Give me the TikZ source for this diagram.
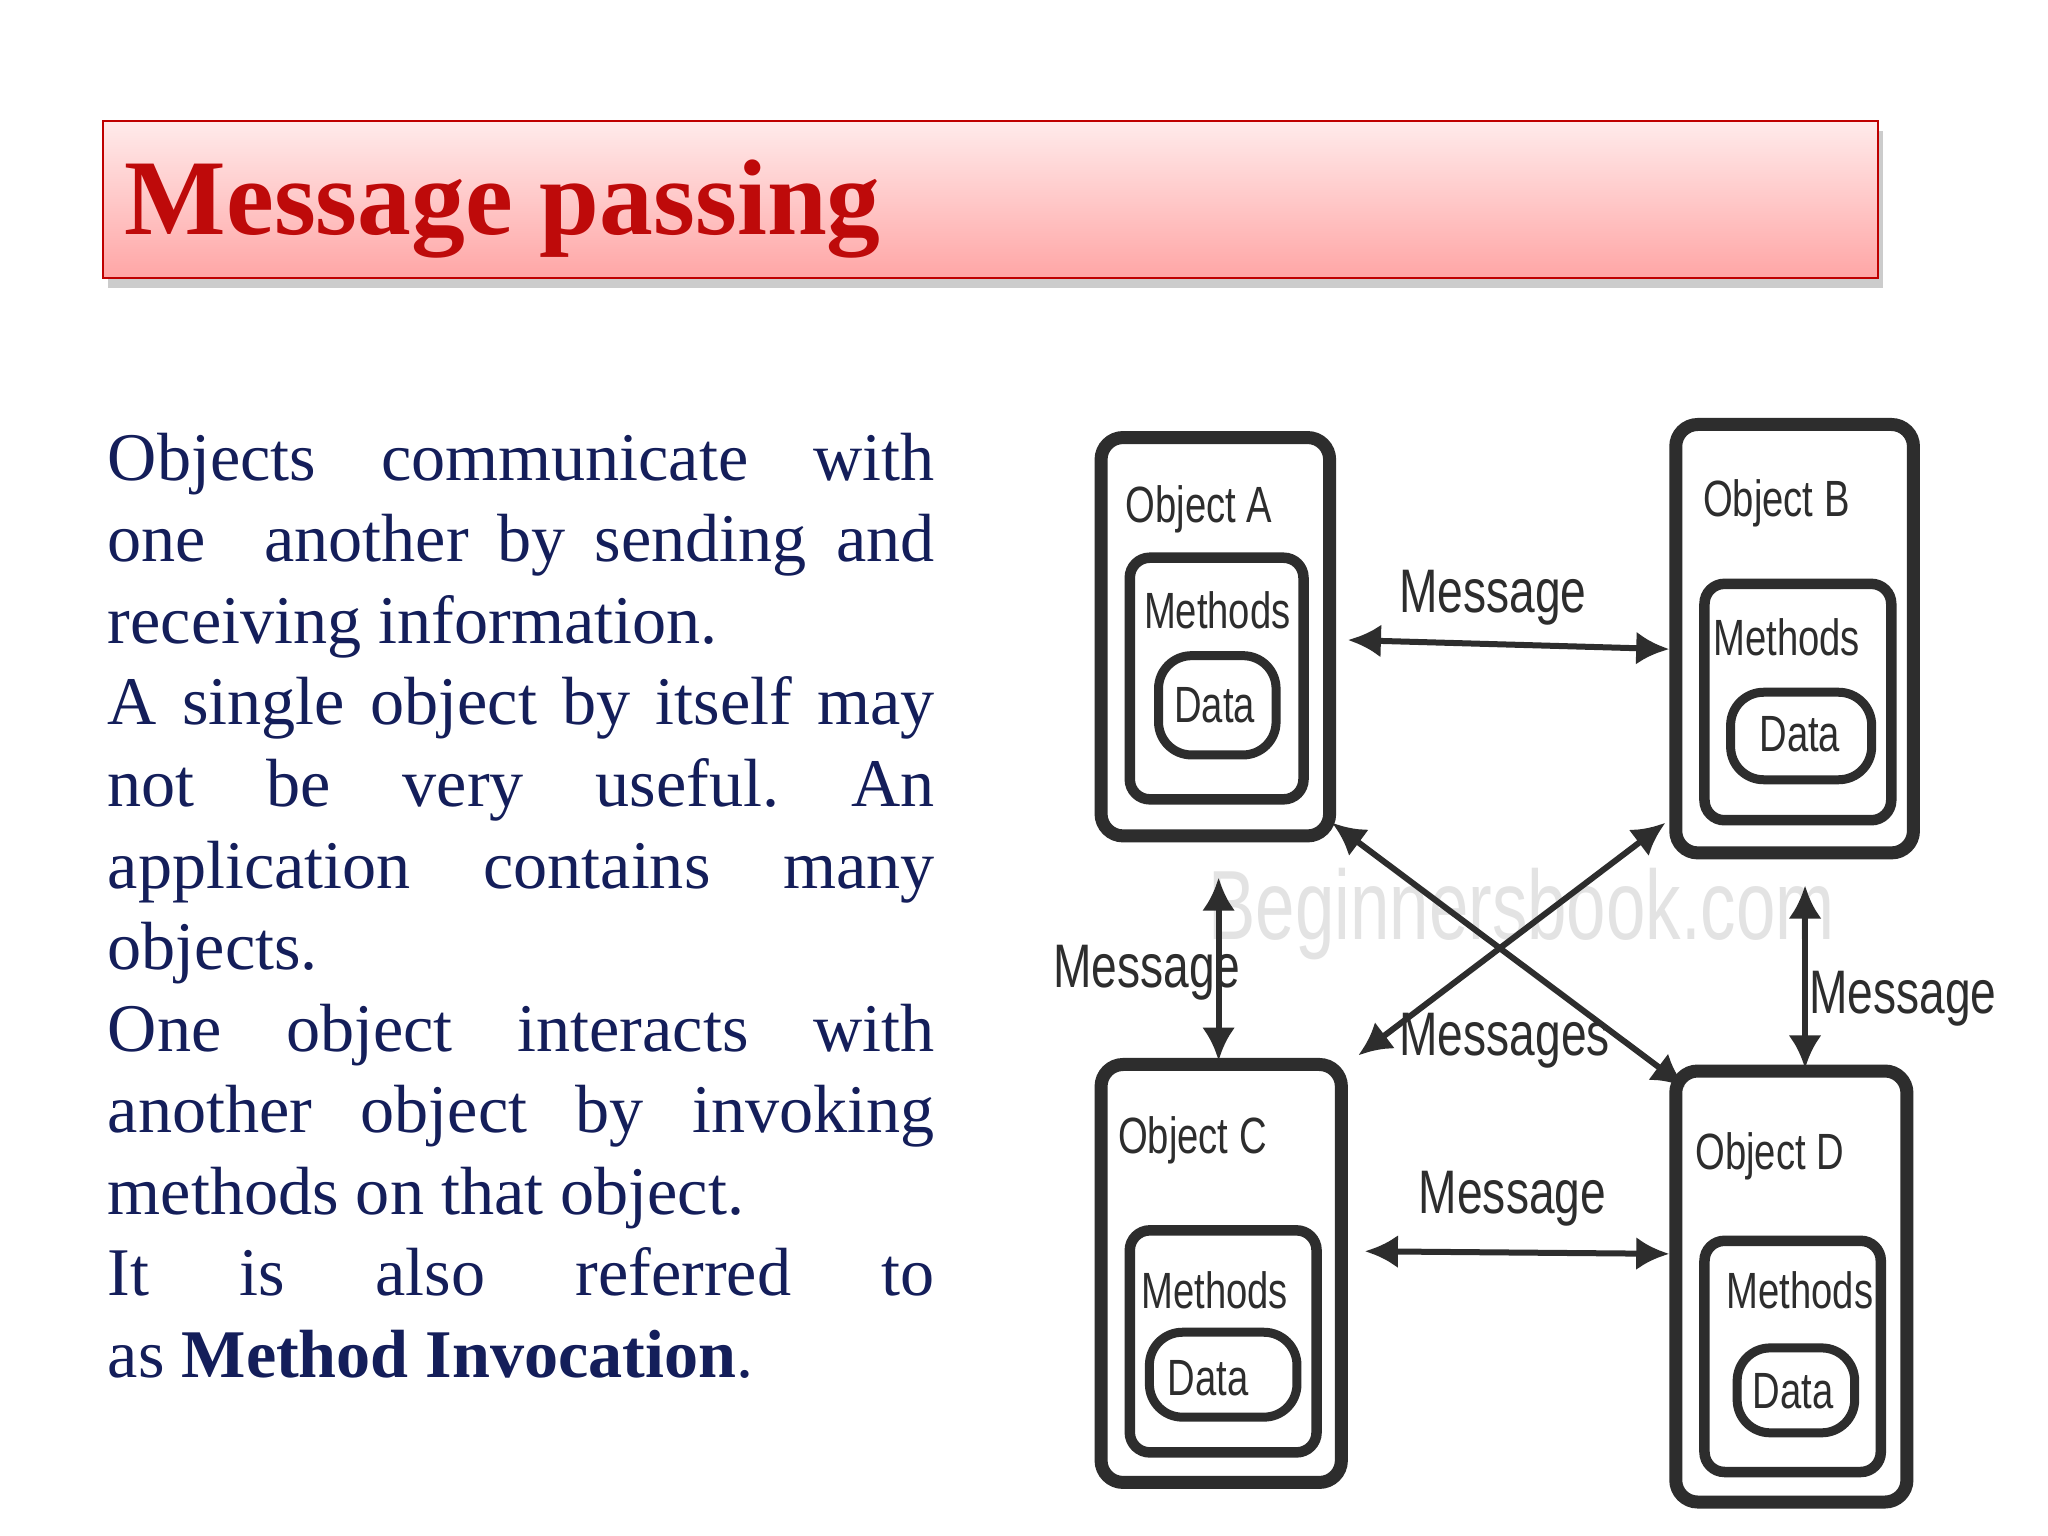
\documentclass[tikz,border=0pt]{standalone}
\usepackage{fontspec}
\usepackage[none]{hyphenat}
\setmainfont{Liberation Serif}
\newfontfamily\lblfont{Liberation Sans}
\usetikzlibrary{arrows.meta,shadows}
\definecolor{navy}{RGB}{20,30,90}
\definecolor{titlered}{RGB}{190,10,10}
\definecolor{boxgray}{RGB}{45,45,45}
\frenchspacing
\tikzset{
  obj/.style={draw=boxgray,line width=1.3mm,rounded corners=2.2mm},
  inner/.style={draw=boxgray,line width=1.05mm,rounded corners=2mm},
  dat/.style={draw=boxgray,line width=0.9mm,rounded corners=3.3mm},
  lbl/.style={font=\lblfont\fontsize{14.5}{15}\selectfont,text=boxgray,xscale=0.75,transform shape},
  msg/.style={font=\lblfont\fontsize{17.5}{18}\selectfont,text=boxgray,xscale=0.75,transform shape},
  conn/.style={draw=boxgray,line width=0.6mm,{Latex[length=3.3mm,width=3.3mm]}-{Latex[length=3.3mm,width=3.3mm]}}
}
\begin{document}
\begin{tikzpicture}[x=0.01306cm,y=-0.01306cm]
\useasboundingbox (0,0) rectangle (1568,1176);
\fill[white] (0,0) rectangle (1568,1176);
% title
\node[draw=red!75!black,line width=0.6pt,top color=red!8,bottom color=red!35!white,
  drop shadow={shadow xshift=0.5mm,shadow yshift=-1mm,opacity=0.4},
  minimum width=1359*0.01306cm,minimum height=120*0.01306cm,anchor=north west,inner sep=0pt]
  (title) at (78,92) {};
\node[anchor=west,text=titlered,font=\bfseries\fontsize{30.6}{32}\selectfont] (tt) at (86,160) {Message passing};
% body text
\node[anchor=north west,text width=633*0.01306cm,align=justify,inner sep=0pt,text=navy,
  font=\fontsize{19.4}{23.2}\selectfont] (body) at (82,331) {%
Objects communicate with one~ another by sending and receiving information.\\
A single object by itself may\linebreak not be very useful. An application contains many objects.\\
One object interacts with another object by invoking methods on that object.\\
It is also referred to\linebreak as \textbf{Method Invocation}.};
% watermark
\node[font=\lblfont\fontsize{28}{30}\selectfont,text=gray!22,xscale=0.72,transform shape] (wm) at (1165,700) {Beginnersbook.com};
% objects
\draw[obj] (843,335) rectangle (1018,640);
\draw[inner] (865,427) rectangle (998,612);
\draw[dat] (887,502) rectangle (977,578);
\node[lbl] (la) at (918,390) {Object A};
\node[lbl] (ma) at (932,467) {Methods};
\node[lbl] (da) at (930,540) {Data};
\node (A) at (930,488) [minimum width=175*0.01306cm,minimum height=305*0.01306cm] {};

\draw[obj] (1283,325) rectangle (1465,653);
\draw[inner] (1305,447) rectangle (1448,628);
\draw[dat] (1325,530) rectangle (1433,597);
\node[lbl] (lb) at (1360,385) {Object B};
\node[lbl] (mb) at (1368,488) {Methods};
\node[lbl] (db) at (1378,562) {Data};
\node (B) at (1374,489) [minimum width=182*0.01306cm,minimum height=328*0.01306cm] {};

\draw[obj] (843,815) rectangle (1027,1135);
\draw[inner] (865,942) rectangle (1008,1112);
\draw[dat] (880,1020) rectangle (993,1085);
\node[lbl] (lc) at (913,873) {Object C};
\node[lbl] (mc) at (930,988) {Methods};
\node[lbl] (dc) at (925,1055) {Data};
\node (C) at (935,975) [minimum width=184*0.01306cm,minimum height=320*0.01306cm] {};

\draw[obj] (1283,820) rectangle (1460,1150);
\draw[inner] (1305,950) rectangle (1440,1127);
\draw[dat] (1330,1032) rectangle (1420,1097);
\node[lbl] (ld) at (1355,885) {Object D};
\node[lbl] (md) at (1378,988) {Methods};
\node[lbl] (dd) at (1373,1065) {Data};
\node (D) at (1371,985) [minimum width=177*0.01306cm,minimum height=330*0.01306cm] {};

% connectors
\coordinate (ab1) at (1032,490); \coordinate (ab2) at (1278,497);
\draw[conn] (ab1) -- (ab2);
\node[msg] (mab) at (1143,458) {Message};
\coordinate (cd1) at (1045,958); \coordinate (cd2) at (1278,960);
\draw[conn] (cd1) -- (cd2);
\node[msg] (mcd) at (1158,918) {Message};
\coordinate (ac1) at (933,672); \coordinate (ac2) at (933,812);
\draw[conn] (ac1) -- (ac2);
\node[msg] (mac) at (878,745) {Message};
\coordinate (bd1) at (1382,678); \coordinate (bd2) at (1382,818);
\draw[conn] (bd1) -- (bd2);
\node[msg] (mbd) at (1457,765) {Message};
\coordinate (ad1) at (1020,630); \coordinate (ad2) at (1290,832);
\draw[conn] (ad1) -- (ad2);
\coordinate (bc1) at (1275,630); \coordinate (bc2) at (1040,808);
\draw[conn] (bc1) -- (bc2);
\node[msg] (mx) at (1152,797) {Messages};
\end{tikzpicture}
\end{document}
